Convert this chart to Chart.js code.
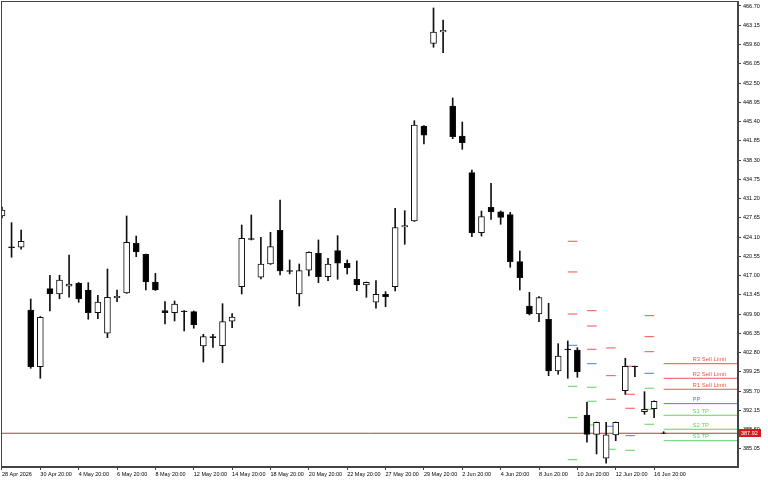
<!DOCTYPE html>
<html>
<head>
<meta charset="utf-8">
<script src="https://cdn.jsdelivr.net/npm/chart.js@4.4.1/dist/chart.umd.min.js"></script>
<style>
html, body { margin: 0; padding: 0; background: #fff; }
canvas { display: block; }
</style>
</head>
<body>
<canvas id="priceChart" width="768" height="480"></canvas>
<script>
// candles, oldest first
const opens  = [427.98,422.30,422.21,410.65,400.20,414.58,413.60,415.02,415.57,414.34,
                410.15,406.36,412.92,413.79,422.95,420.92,415.81,410.52,410.15,410.47,
                410.34,404.01,405.73,404.07,408.57,414.95,423.82,416.68,419.13,425.35,
                417.92,413.60,417.97,421.11,416.79,421.58,419.26,416.31,415.26,412.07,
                413.55,414.95,425.95,427.06,444.58,459.82,461.91,448.26,442.73,435.97,
                424.90,429.59,428.77,428.22,419.56,411.39,409.91,408.94,399.41,403.46,
                403.28,391.29,387.73,383.31,387.61,395.77,400.27,391.90,392.45,387.95];
const highs  = [429.64,426.75,425.40,412.68,409.45,417.05,417.05,420.79,415.72,415.69,
                413.36,418.21,414.34,427.98,424.29,420.97,417.42,412.18,412.31,410.56,
                410.47,406.17,406.17,411.81,409.97,426.32,428.17,424.06,424.98,430.93,
                419.87,419.13,421.35,423.56,420.18,424.35,419.87,419.69,415.81,416.05,
                414.03,429.40,428.96,445.55,444.67,466.33,464.12,449.74,445.31,436.46,
                428.90,434.01,428.90,428.66,421.53,413.91,413.10,411.89,404.44,404.94,
                403.70,393.63,390.00,389.95,390.00,401.75,400.33,395.59,393.90,388.20];
const lows   = [427.61,420.37,421.84,399.90,398.06,410.47,412.73,412.99,412.07,408.94,
                409.05,405.54,412.18,413.70,420.48,414.34,414.25,408.07,408.62,406.78,
                407.28,401.06,403.77,400.93,407.39,413.60,423.56,416.37,419.04,417.10,
                417.29,411.39,416.92,415.69,416.05,416.31,417.29,414.21,412.99,410.97,
                411.26,414.15,422.76,426.97,441.26,459.09,458.09,442.23,440.28,424.17,
                424.29,427.37,426.45,418.52,414.34,409.73,408.49,398.54,398.80,398.06,
                398.24,386.26,384.10,382.39,386.55,395.11,398.35,391.42,390.79,387.85];
const closes = [429.09,422.16,423.32,400.20,409.31,413.60,416.18,415.44,412.68,410.15,
                412.13,412.99,413.18,423.13,421.35,415.81,414.34,410.15,411.76,410.36,
                407.94,405.73,405.54,408.49,409.36,423.87,423.67,419.13,422.32,417.84,
                417.77,417.90,421.29,416.79,419.13,419.26,418.45,415.26,415.76,413.55,
                413.10,425.86,426.23,444.76,442.86,461.91,462.22,442.60,441.50,424.85,
                427.85,428.72,427.74,419.56,416.61,409.91,412.92,399.41,402.17,403.31,
                399.28,387.73,389.95,387.61,389.95,400.27,400.18,392.34,393.82,387.92];

// daily pivot levels, one value per day; day starts at candle index
const pivotDayStart = [59, 61, 63, 65, 67, 69];
const r3 = [423.32, 410.52, 403.65, 400.27, 409.60, 400.75];
const r2 = [417.66, 407.70, 398.54, 395.11, 405.73, 398.06];
const r1 = [409.91, 403.41, 394.19, 392.53, 402.96, 396.03];
const pp = [404.14, 400.75, 389.21, 387.48, 398.98, 393.38];
const s1 = [396.58, 396.40, 384.97, 384.78, 396.22, 391.24];
const s2 = [390.79, 393.82, 379.88, 379.85, 392.34, 388.66];
const s3 = [383.05, 389.45, 375.75, 377.10, 389.58, 386.55];
const pivotNames = ['R3 Sell Limit', 'R2 Sell Limit', 'R1 Sell Limit', 'PP', 'S1 TP', 'S2 TP', 'S3 TP'];

const xLabels = ['28 Apr 2026', '30 Apr 20:00', '4 May 20:00', '6 May 20:00', '8 May 20:00',
                 '12 May 20:00', '14 May 20:00', '18 May 20:00', '20 May 20:00', '22 May 20:00',
                 '27 May 20:00', '29 May 20:00', '2 Jun 20:00', '4 Jun 20:00', '8 Jun 20:00',
                 '10 Jun 20:00', '12 Jun 20:00', '16 Jun 20:00'];
const labelStep = 4;
const yTicks = [466.70, 463.15, 459.60, 456.05, 452.50, 448.95, 445.40, 441.85, 438.30, 434.75,
                431.20, 427.65, 424.10, 420.55, 417.00, 413.45, 409.90, 406.35, 402.80, 399.25,
                395.70, 392.15, 388.60, 385.05];

const xMin = -0.1, xMax = 76.75;
const yMin = 381.70, yMax = 467.62;
const currentPrice = closes[closes.length - 1];
const levelLabelAt = 72;

const RED = '#f25252', BLUE = '#4f7be0', GREEN = '#5fd35f';
const levels = [
    { name: pivotNames[0], values: r3, color: RED },
    { name: pivotNames[1], values: r2, color: RED },
    { name: pivotNames[2], values: r1, color: RED },
    { name: pivotNames[3], values: pp, color: BLUE },
    { name: pivotNames[4], values: s1, color: GREEN },
    { name: pivotNames[5], values: s2, color: GREEN },
    { name: pivotNames[6], values: s3, color: GREEN }
];

function levelPoints(values) {
    let pts = [];
    values.forEach(function(v, d) {
        let start = pivotDayStart[d];
        let end = d === values.length - 1 ? xMax : start + 1;
        pts.push({ x: start, y: v }, { x: end, y: v }, { x: end + 0.01, y: null });
    });
    return pts;
}

const tickFont = { family: '"Liberation Sans", Arial, sans-serif', size: 5.5 };

const frame = {
    id: 'frame',
    afterDraw(chart) {
        const { ctx, chartArea: a } = chart;
        ctx.save();
        ctx.strokeStyle = '#444';
        ctx.lineWidth = 1;
        ctx.strokeRect(Math.round(a.left) + 0.5, Math.round(a.top) + 0.5,
                       Math.round(a.width) - 1, Math.round(a.height) - 1);
        ctx.restore();
    }
};

const levelLabels = {
    id: 'levelLabels',
    afterDatasetsDraw(chart) {
        const { ctx, scales: { x, y } } = chart;
        ctx.save();
        ctx.font = '6px "Liberation Sans", Arial, sans-serif';
        ctx.textBaseline = 'bottom';
        ctx.textAlign = 'left';
        levels.forEach(function(l) {
            ctx.fillStyle = l.color;
            ctx.fillText(l.name, x.getPixelForValue(levelLabelAt),
                         y.getPixelForValue(l.values[l.values.length - 1]) - 1);
        });
        ctx.restore();
    }
};

const priceTag = {
    id: 'priceTag',
    afterDraw(chart) {
        const { ctx, chartArea: a, scales: { y } } = chart;
        const py = Math.round(y.getPixelForValue(currentPrice));
        ctx.save();
        ctx.fillStyle = '#d41c1c';
        ctx.fillRect(a.right + 1, py - 4, 22, 8);
        ctx.fillStyle = '#fff';
        ctx.font = '5.5px "Liberation Sans", Arial, sans-serif';
        ctx.textBaseline = 'middle';
        ctx.textAlign = 'left';
        ctx.fillText(currentPrice.toFixed(2), a.right + 3, py + 0.5);
        ctx.restore();
    }
};

document.addEventListener('DOMContentLoaded', function() {
    let ctx = document.getElementById('priceChart').getContext('2d');

    let datasets = [];
    levels.forEach(function(l) {
        datasets.push({
            type: 'line',
            data: levelPoints(l.values),
            borderColor: l.color,
            borderWidth: 1,
            pointRadius: 0,
            spanGaps: false,
            order: 3
        });
    });
    datasets.push({
        type: 'line',
        data: [{ x: xMin, y: currentPrice }, { x: xMax, y: currentPrice }],
        borderColor: '#a84040',
        borderWidth: 1,
        pointRadius: 0,
        order: 2
    });
    datasets.push({
        type: 'bar',
        data: highs.map(function(h, i) { return { x: i, y: [lows[i], h] }; }),
        backgroundColor: '#111',
        barThickness: 1,
        grouped: false,
        order: 1
    });
    datasets.push({
        type: 'bar',
        data: opens.map(function(o, i) { return { x: i, y: [o, closes[i]] }; }),
        backgroundColor: function(c) {
            return closes[c.dataIndex] >= opens[c.dataIndex] ? '#fff' : '#000';
        },
        borderColor: '#111',
        borderWidth: 1,
        borderSkipped: false,
        barThickness: 6,
        grouped: false,
        order: 0
    });

    new Chart(ctx, {
        type: 'bar',
        data: { datasets: datasets },
        options: {
            responsive: false,
            animation: false,
            events: [],
            layout: { padding: { left: 1, top: 1, right: 0, bottom: 0 } },
            plugins: { legend: { display: false }, tooltip: { enabled: false } },
            scales: {
                x: {
                    type: 'linear',
                    offset: false,
                    min: xMin,
                    max: xMax,
                    afterBuildTicks: function(s) {
                        s.ticks = xLabels.map(function(t, k) { return { value: k * labelStep }; });
                    },
                    afterFit: function(s) {
                        s.height = 13;
                        s.paddingLeft = 0;
                        s.paddingRight = 0;
                    },
                    ticks: {
                        autoSkip: false,
                        maxRotation: 0,
                        minRotation: 0,
                        align: 'start',
                        padding: 1,
                        color: '#000',
                        font: tickFont,
                        callback: function(v, i) { return xLabels[i]; }
                    },
                    grid: { drawOnChartArea: false, offset: false, tickLength: 3, color: '#444' },
                    border: { color: '#444' }
                },
                y: {
                    position: 'right',
                    min: yMin,
                    max: yMax,
                    afterBuildTicks: function(s) {
                        s.ticks = yTicks.map(function(v) { return { value: v }; });
                    },
                    afterFit: function(s) {
                        s.width = 30;
                        s.paddingTop = 0;
                        s.paddingBottom = 0;
                    },
                    ticks: {
                        padding: 2,
                        color: '#000',
                        font: tickFont,
                        callback: function(v) { return v.toFixed(2); }
                    },
                    grid: { drawOnChartArea: false, tickLength: 3, color: '#444' },
                    border: { color: '#444' }
                }
            }
        },
        plugins: [frame, levelLabels, priceTag]
    });
}, false);
</script>
</body>
</html>
